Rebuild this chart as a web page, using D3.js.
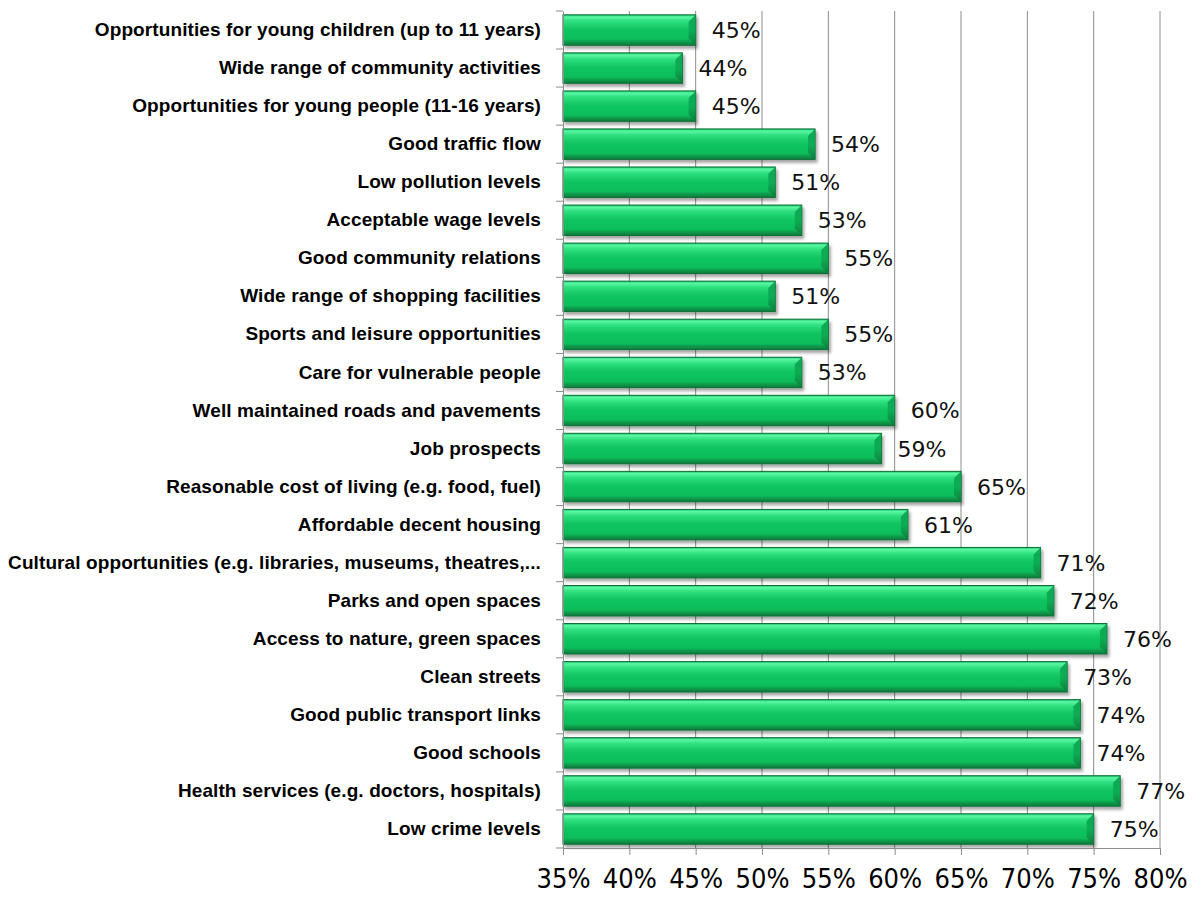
<!DOCTYPE html>
<html><head><meta charset="utf-8">
<script src="https://cdn.jsdelivr.net/npm/d3@7"></script>
<style>body{margin:0;background:#fff}svg{display:block}</style>
</head><body>
<script>
const categories = [
 "Opportunities for young children (up to 11 years)",
 "Wide range of community activities",
 "Opportunities for young people (11-16 years)",
 "Good traffic flow",
 "Low pollution levels",
 "Acceptable wage levels",
 "Good community relations",
 "Wide range of shopping facilities",
 "Sports and leisure opportunities",
 "Care for vulnerable people",
 "Well maintained roads and pavements",
 "Job prospects",
 "Reasonable cost of living (e.g. food, fuel)",
 "Affordable decent housing",
 "Cultural opportunities (e.g. libraries, museums, theatres,...",
 "Parks and open spaces",
 "Access to nature, green spaces",
 "Clean streets",
 "Good public transport links",
 "Good schools",
 "Health services (e.g. doctors, hospitals)",
 "Low crime levels"
];
const values = [45,44,45,54,51,53,55,51,55,53,60,59,65,61,71,72,76,73,74,74,77,75];
const tickValues = [35,40,45,50,55,60,65,70,75,80];

(function(){
const W = 1199, H = 900;
const pL = 563, pR = 1160, pT = 11, pB = 848;
const svg = d3.select("body").append("svg").attr("width", W).attr("height", H);

const defs = svg.append("defs");
const g1 = defs.append("linearGradient").attr("id","barGrad").attr("x1",0).attr("y1",0).attr("x2",0).attr("y2",1);
[[0,"#1ac466"],[0.07,"#5af7a5"],[0.2,"#30e07f"],[0.45,"#12c662"],[0.8,"#0cbd5b"],[0.88,"#0a9e4c"],[1,"#087a3a"]]
  .forEach(([o,c]) => g1.append("stop").attr("offset",o).attr("stop-color",c));
const g2 = defs.append("linearGradient").attr("id","endGrad").attr("x1",0).attr("y1",0).attr("x2",0).attr("y2",1);
[[0,"#0a9a4a"],[0.5,"#0aa852"],[1,"#07793a"]]
  .forEach(([o,c]) => g2.append("stop").attr("offset",o).attr("stop-color",c));
const f = defs.append("filter").attr("id","sh").attr("x","-5%").attr("y","-20%").attr("width","115%").attr("height","160%");
f.append("feGaussianBlur").attr("in","SourceAlpha").attr("stdDeviation",1.5);
f.append("feOffset").attr("dx",2).attr("dy",3).attr("result","b");
f.append("feComponentTransfer").append("feFuncA").attr("type","linear").attr("slope",0.35);
const m = f.append("feMerge"); m.append("feMergeNode"); m.append("feMergeNode").attr("in","SourceGraphic");

const x = d3.scaleLinear().domain([35,80]).range([pL,pR]);
const y = d3.scaleBand().domain(categories).range([pT,pB]).paddingInner(0.2).paddingOuter(0.1);

svg.append("g").selectAll("line").data(tickValues.slice(1)).join("line")
  .attr("x1",d=>x(d)).attr("x2",d=>x(d)).attr("y1",pT).attr("y2",pB)
  .attr("stroke","#8c8c8c").attr("stroke-width",1);

const bars = svg.append("g").selectAll("g").data(values).join("g")
  .attr("filter","url(#sh)");
bars.append("rect")
  .attr("x",x(35)).attr("y",(d,i)=>y(categories[i]))
  .attr("width",d=>x(d)-x(35)).attr("height",y.bandwidth())
  .attr("fill","url(#barGrad)").attr("stroke","#0a6e36").attr("stroke-width",1);
const bev = 7;
bars.append("path")
  .attr("d",(d,i)=>{
    const x1 = x(d), y0 = y(categories[i]), h = y.bandwidth();
    return `M${x1},${y0}L${x1},${y0+h}L${x1-bev},${y0+h-bev}L${x1-bev},${y0+bev}Z`;
  })
  .attr("fill","url(#endGrad)").attr("opacity",0.85);

svg.append("g").selectAll("text").data(values).join("text")
  .attr("x",d=>x(d)+16).attr("y",(d,i)=>y(categories[i])+y.bandwidth()/2+8)
  .attr("font-family","DejaVu Sans").attr("font-size",22).attr("fill","#111")
  .text(d=>d+"%");

const ya = svg.append("g").attr("transform",`translate(${pL},0)`)
  .call(d3.axisLeft(y).tickSize(0).tickPadding(22));
ya.select(".domain").attr("stroke","#8c8c8c");
ya.selectAll("text").attr("font-family","Liberation Sans").attr("font-weight","bold")
  .attr("font-size",19).attr("fill","#000").attr("letter-spacing","0.1");
const bounds = categories.map((c,i)=> pT + i*(pB-pT)/categories.length).concat([pB]);
svg.append("g").selectAll("line").data(bounds).join("line")
  .attr("x1",pL-7).attr("x2",pL).attr("y1",d=>d).attr("y2",d=>d)
  .attr("stroke","#8c8c8c");

const xa = svg.append("g").attr("transform",`translate(0,${pB})`)
  .call(d3.axisBottom(x).tickValues(tickValues).tickFormat(d=>d+"%").tickSize(7).tickPadding(14));
xa.selectAll("line, .domain").attr("stroke","#8c8c8c");
xa.selectAll("text").attr("font-family","DejaVu Sans Condensed, DejaVu Sans").attr("font-stretch","condensed")
  .attr("font-size",27).attr("fill","#000");
})();
</script>
</body></html>
